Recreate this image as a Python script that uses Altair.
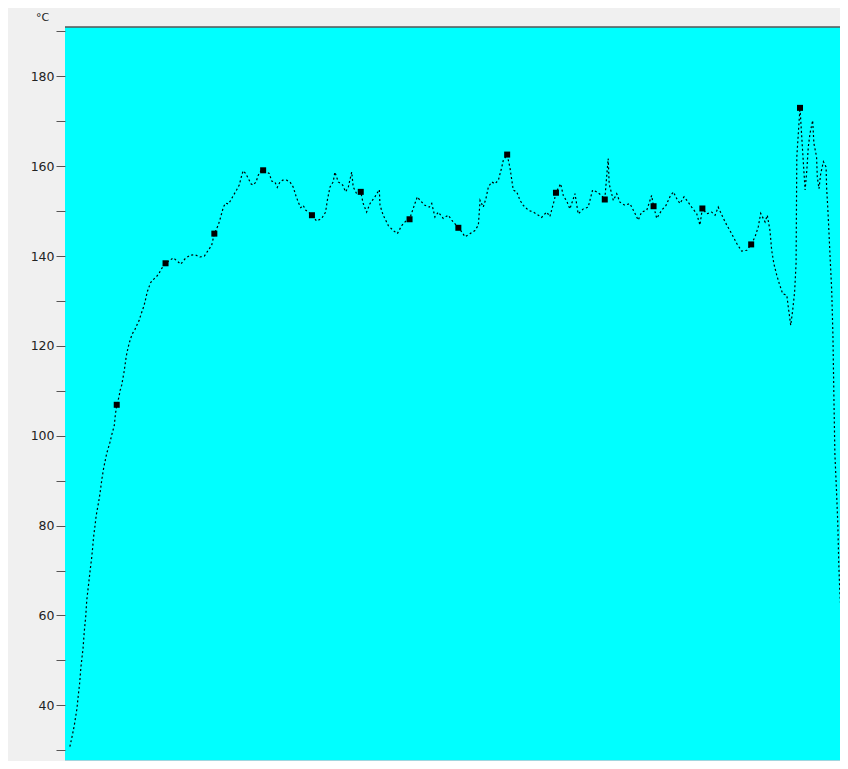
import altair as alt
import pandas as pd

# sample time (index) and temperature readings (°C)
time_s = [
    0.8, 1.8, 2.6, 3.7, 4.2, 4.8, 5.3, 6.2, 6.7, 7.3,
    7.7, 8.5, 9.1, 9.7, 10.1, 10.5, 11.1, 11.6, 12.2, 12.7,
    13.2, 13.9, 14.6, 15.9, 17.2, 18.0, 19.0, 19.4, 20.0, 20.9,
    21.4, 22.0, 22.4, 23.0, 23.5, 23.9, 24.6, 25.1, 25.7, 26.5,
    27.5, 28.4, 29.2, 29.8, 30.5, 31.2, 32.0, 32.5, 33.2, 33.9,
    34.7, 35.4, 36.4, 37.3, 38.1, 40.0, 43.2, 45.2, 46.2, 48.0,
    50.0, 52.1, 54.1, 55.9, 57.5, 58.9, 60.0, 61.6, 62.6, 63.7,
    64.6, 65.7, 66.7, 67.8, 69.1, 70.2, 70.9, 71.8, 72.8, 73.9,
    75.0, 75.9, 77.1, 78.0, 79.1, 80.0, 82.5, 83.5, 84.8, 85.8,
    86.9, 88.0, 89.6, 91.0, 92.3, 93.4, 94.4, 95.4, 96.4, 97.5,
    98.5, 100.0, 101.9, 104.0, 105.6, 106.3, 107.4, 108.7, 109.4, 110.8,
    112.6, 113.8, 114.9, 116.3, 116.9, 118.3, 120.0, 121.0, 122.4, 123.8,
    125.8, 127.6, 127.9, 129.2, 131.3, 133.3, 135.0, 136.8, 138.8, 140.0,
    142.2, 143.2, 144.3, 146.3, 148.1, 149.1, 150.4, 151.8, 153.8, 155.9,
    157.3, 160.0, 161.4, 162.7, 164.8, 166.8, 168.2, 168.9, 170.2, 171.3,
    172.3, 173.7, 175.0, 176.4, 177.8, 178.4, 180.0, 181.2, 182.5, 183.9,
    185.3, 186.6, 188.7, 190.7, 192.8, 194.1, 196.2, 197.5, 199.3, 200.0,
    201.9, 203.0, 204.6, 205.7, 207.8, 209.1, 211.2, 213.2, 215.0, 216.7,
    218.7, 220.0, 221.4, 221.8, 223.5, 224.9, 226.2, 228.3, 230.3, 232.4,
    233.7, 235.1, 237.2, 239.2, 240.0, 241.3, 243.3, 245.1, 246.7, 248.1,
    249.5, 250.8, 252.5, 254.2, 255.6, 257.7, 259.0, 260.0, 261.8, 263.8,
    265.2, 266.5, 268.6, 270.0, 272.0, 274.1, 276.1, 278.2, 280.0, 281.6,
    282.9, 283.9, 285.7, 286.6, 287.7, 288.4, 289.3, 290.5, 291.5, 292.9,
    294.6, 295.2, 296.2, 297.0, 297.8, 298.4, 298.7, 300.0, 301.1, 302.1,
    302.8, 303.4, 304.1, 305.2, 305.7, 306.8, 307.1, 307.8, 308.5, 309.6,
    310.7, 310.9, 311.4, 311.9, 312.4, 313.0, 313.5, 313.9, 314.3, 314.9,
    315.5, 315.9, 316.3, 316.7, 317.2, 317.8, 318.3, 318.7,
]

temp_c = [
    30.8, 33.3, 35.5, 39.3, 42.0, 44.9, 48.4, 52.7, 56.4, 59.8,
    63.3, 67.1, 70.0, 72.7, 74.9, 77.4, 80.0, 82.3, 84.1, 85.6,
    87.4, 90.3, 92.7, 96.1, 98.5, 100.3, 102.3, 104.5, 106.9, 108.6,
    110.1, 111.2, 112.4, 114.2, 116.1, 117.7, 119.5, 120.6, 121.7, 122.8,
    123.7, 124.8, 125.7, 126.8, 127.9, 129.0, 130.8, 132.0, 133.1, 134.1,
    134.6, 135.0, 135.5, 136.1, 137.0, 138.4, 139.6, 138.7, 138.2, 139.4,
    140.2, 140.3, 139.8, 140.0, 141.3, 142.4, 145.0, 146.9, 148.7, 150.9,
    151.8, 151.6, 152.4, 153.5, 154.7, 155.8, 157.3, 159.0, 158.4, 157.3,
    156.1, 155.8, 156.5, 158.0, 159.0, 159.1, 158.4, 156.7, 156.5, 155.3,
    156.5, 156.9, 156.9, 156.5, 155.4, 153.5, 152.0, 150.8, 151.3, 150.2,
    149.8, 149.1, 147.8, 148.4, 149.8, 152.4, 155.4, 156.5, 158.7, 156.5,
    155.8, 154.3, 155.4, 158.7, 155.4, 153.9, 154.3, 151.7, 149.8, 151.7,
    153.2, 154.8, 151.3, 149.1, 146.8, 145.7, 145.0, 146.8, 148.0, 148.2,
    151.7, 153.2, 152.4, 151.3, 150.9, 151.7, 148.7, 149.8, 148.4, 149.1,
    148.0, 146.3, 145.4, 144.3, 145.0, 145.7, 146.9, 152.4, 150.9, 152.8,
    155.4, 156.5, 156.1, 156.9, 159.8, 161.3, 162.6, 159.5, 154.7, 154.3,
    152.4, 151.3, 150.2, 149.8, 149.1, 148.6, 149.8, 148.8, 152.4, 154.1,
    156.1, 153.5, 152.0, 150.5, 153.9, 149.4, 150.5, 150.9, 154.7, 154.3,
    153.5, 152.6, 161.7, 156.1, 152.4, 153.9, 152.0, 151.3, 151.7, 149.5,
    148.0, 149.8, 150.2, 153.5, 151.1, 148.4, 150.2, 151.3, 153.2, 154.3,
    152.8, 151.7, 153.2, 152.0, 150.9, 149.4, 146.9, 150.6, 149.4, 149.8,
    149.1, 150.9, 148.4, 146.9, 145.0, 142.8, 141.1, 141.3, 142.6, 144.3,
    146.5, 149.5, 147.6, 149.1, 145.7, 141.3, 138.3, 135.7, 133.9, 131.6,
    131.3, 128.7, 124.6, 127.9, 132.0, 138.4, 162.1, 173.0, 163.2, 154.7,
    159.1, 164.3, 167.3, 170.2, 165.1, 162.1, 157.6, 155.0, 158.4, 161.0,
    159.8, 155.4, 150.6, 145.0, 139.1, 132.4, 122.4, 108.6, 96.0, 88.6,
    80.4, 71.5, 65.6, 61.8, 58.2, 51.8, 46.3, 43.5,
]

marker_t = [20, 40, 60, 80, 100, 120, 140, 160, 180, 200, 220, 240, 260, 280, 300]
marker_v = [106.9, 138.4, 145.0, 159.1, 149.1, 154.3, 148.2, 146.3, 162.6,
            154.1, 152.6, 151.1, 150.6, 142.6, 173.0]

y_ticks = list(range(30, 191, 5))

W, H = 775, 734

line_df = pd.DataFrame({"t": time_s, "temp": temp_c})
mark_df = pd.DataFrame({"t": marker_t, "temp": marker_v})

x_enc = alt.X("t:Q", axis=None,
              scale=alt.Scale(domain=[-1.2, 316.4], nice=False, zero=False))
y_scale = alt.Scale(domain=[27.6, 191.0], nice=False, zero=False)
y_axis = alt.Axis(
    values=y_ticks,
    labelExpr="datum.value % 20 == 0 ? datum.label : ''",
    title="°C",
    titleAngle=0,
    titleX=-23,
    titleY=-10,
    titleAlign="center",
    titleBaseline="middle",
    titleFontSize=11,
    titleFontWeight="normal",
    titleFont="DejaVu Sans",
    titleColor="#222222",
    labelFont="DejaVu Sans",
    labelFontSize=12.5,
    labelColor="#222222",
    labelPadding=2,
    tickSize=9,
    tickColor="#555555",
    domain=False,
    grid=False,
)

line = alt.Chart(line_df).mark_line(
    color="black", strokeWidth=1.2, strokeDash=[2, 2.5]
).encode(x=x_enc, y=alt.Y("temp:Q", scale=y_scale, axis=y_axis))

squares = alt.Chart(mark_df).mark_square(
    color="black", size=36, opacity=1, filled=True
).encode(x=x_enc, y=alt.Y("temp:Q", scale=y_scale))

one = alt.Data(values=[{"a": 1}])
top_rule = alt.Chart(one).mark_rule(color="#555555", strokeWidth=1.5).encode(
    x=alt.value(0), x2=alt.value(W), y=alt.value(0)
)
bottom_rule = alt.Chart(one).mark_rule(color="#9fd6de", strokeWidth=1).encode(
    x=alt.value(0), x2=alt.value(W), y=alt.value(H - 0.5)
)

chart = alt.layer(line, squares, top_rule, bottom_rule).properties(
    width=W,
    height=H,
    background="#f0f0f0",
    autosize=alt.AutoSizeParams(type="none"),
    padding={"left": 57, "top": 19, "right": 0, "bottom": 0},
).configure_view(fill="#00ffff", stroke=None)

chart.save("out.html", embed_options={"renderer": "svg", "actions": False})
